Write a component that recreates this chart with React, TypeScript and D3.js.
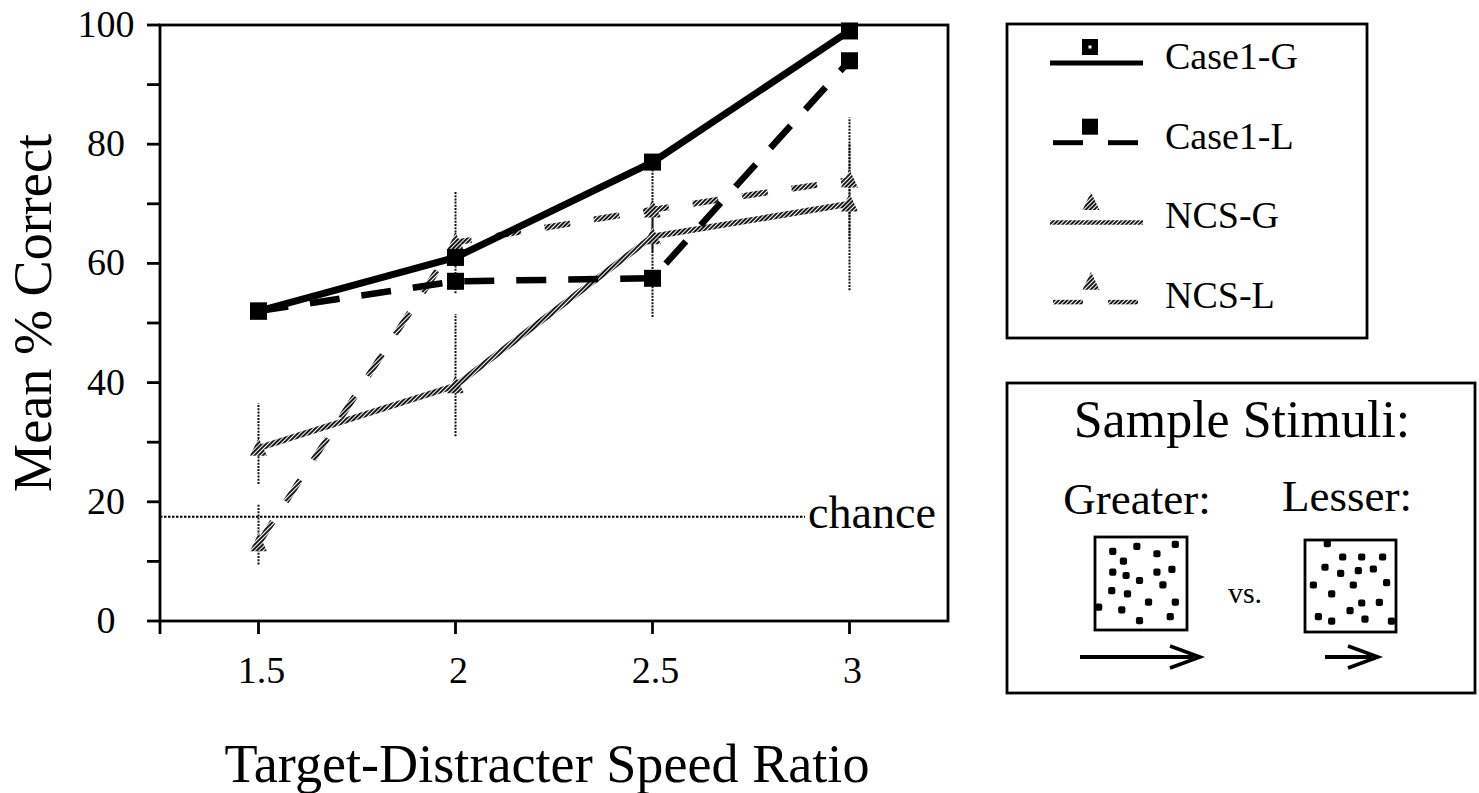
import React from "react";
import * as d3 from "d3";

// ---- data ----
const speedRatios = [1.5, 2, 2.5, 3];
const case1G = [52, 61, 77, 99];
const case1L = [52, 57, 57.5, 94];
const ncsG = [29, 39.5, 64.5, 70];
const ncsGLow = [23, 31, 51, 55.5];
const ncsGHigh = [36.5, 51.5, 70, 80];
const ncsL = [13, 63.5, 69, 74];
const ncsLLow = [9.5, 55, 62, 64];
const ncsLHigh = [19.5, 72, 77, 84.5];
const chanceLevel = 17.5;
const yTickValues = [0, 10, 20, 30, 40, 50, 60, 70, 80, 90, 100];
const yTickLabels = ["0", "20", "40", "60", "80", "100"];
const xTickValues = [1.25, 1.5, 2, 2.5, 3];
const xTickLabels = ["1.5", "2", "2.5", "3"];
const legendNames = ["Case1-G", "Case1-L", "NCS-G", "NCS-L"];

// dot positions inside sample stimulus boxes (fractions of box)
const greaterDots: [number, number][] = [
  [0.873, 0.079], [0.455, 0.101], [0.193, 0.155], [0.673, 0.18], [0.309, 0.259],
  [0.193, 0.378], [0.338, 0.414], [0.673, 0.378], [0.836, 0.349], [0.484, 0.468],
  [0.738, 0.514], [0.182, 0.576], [0.353, 0.612], [0.582, 0.701], [0.873, 0.701],
  [0.04, 0.755], [0.291, 0.784], [0.818, 0.856], [0.484, 0.899],
];
const lesserDots: [number, number][] = [
  [0.245, 0.04], [0.414, 0.185], [0.623, 0.185], [0.853, 0.185], [0.22, 0.296],
  [0.392, 0.363], [0.586, 0.333], [0.751, 0.315], [0.092, 0.489], [0.531, 0.489],
  [0.897, 0.463], [0.293, 0.585], [0.623, 0.685], [0.817, 0.678], [0.495, 0.767],
  [0.147, 0.833], [0.293, 0.881], [0.659, 0.859], [0.95, 0.881],
];

const FONT = "'Liberation Serif', 'Times New Roman', serif";

export default function App() {
  const x = d3.scaleLinear().domain([1.25, 3.25]).range([160, 948]);
  const y = d3.scaleLinear().domain([0, 100]).range([621, 25]);
  const line = d3
    .line<number>()
    .x((_, i) => x(speedRatios[i]))
    .y((d) => y(d));

  const sq = (cx: number, cy: number, s: number, key: string, dot = false) => (
    <g key={key}>
      <rect x={cx - s / 2} y={cy - s / 2} width={s} height={s} fill="#000" />
      {dot && <rect x={cx - 1.5} y={cy - 1.5} width={3} height={3} fill="#fff" />}
    </g>
  );
  const tri = (cx: number, cy: number, s: number, key: string) => (
    <path
      key={key}
      d={`M${cx},${cy - s * 0.6} L${cx + s / 2},${cy + s * 0.45} L${cx - s / 2},${cy + s * 0.45} Z`}
      fill="url(#hatch)"
    />
  );

  const errBars = (lo: number[], hi: number[], key: string) =>
    speedRatios.map((r, i) => (
      <line
        key={key + i}
        x1={x(r)}
        x2={x(r)}
        y1={y(lo[i])}
        y2={y(hi[i])}
        stroke="#111"
        strokeWidth={2}
        strokeDasharray="2 1.2"
      />
    ));

  const legendRowY = (i: number) => 63 + i * 79.7;

  const stimBox = (
    bx: number,
    by: number,
    w: number,
    h: number,
    dots: [number, number][],
    key: string
  ) => (
    <g key={key}>
      <rect x={bx} y={by} width={w} height={h} fill="#fff" stroke="#000" strokeWidth={2.8} />
      {dots.map(([fx, fy], i) => (
        <rect
          key={i}
          x={bx + fx * w - 3.6}
          y={by + fy * h - 3.6}
          width={7.2}
          height={7.2}
          rx={2}
          fill="#000"
        />
      ))}
    </g>
  );

  const arrow = (x1: number, x2: number, yy: number, key: string) => (
    <g key={key} stroke="#000" fill="none">
      <line x1={x1} x2={x2 - 6} y1={yy} y2={yy} strokeWidth={4} />
      <path
        d={`M${x2 - 30},${yy - 11} L${x2},${yy} L${x2 - 30},${yy + 11}`}
        strokeWidth={3.5}
        strokeLinejoin="miter"
      />
    </g>
  );

  return (
    <svg
      width={1479}
      height={793}
      style={{ position: "absolute", left: 0, top: 0, background: "#fff" }}
      fontFamily={FONT}
    >
      <defs>
        <pattern
          id="hatch"
          width={3}
          height={3}
          patternUnits="userSpaceOnUse"
          patternTransform="rotate(45)"
        >
          <rect width={3} height={3} fill="#fff" />
          <line x1={1} y1={0} x2={1} y2={3} stroke="#000" strokeWidth={1.8} />
        </pattern>
      </defs>
      <rect width={1479} height={793} fill="#fff" />

      {/* chance line */}
      <line
        x1={x(1.25)}
        x2={805}
        y1={y(chanceLevel)}
        y2={y(chanceLevel)}
        stroke="#000"
        strokeWidth={2}
        strokeDasharray="2.5 1.5"
      />
      <text x={808} y={y(chanceLevel) + 11} fontSize={46} textLength={128} lengthAdjust="spacingAndGlyphs">
        chance
      </text>

      {/* error bars */}
      {errBars(ncsGLow, ncsGHigh, "eg")}
      {errBars(ncsLLow, ncsLHigh, "el")}

      {/* NCS lines */}
      <path d={line(ncsG) || ""} fill="none" stroke="url(#hatch)" strokeWidth={6} />
      <path
        d={line(ncsL) || ""}
        fill="none"
        stroke="url(#hatch)"
        strokeWidth={6}
        strokeDasharray="26 24"
      />
      {ncsG.map((v, i) => tri(x(speedRatios[i]), y(v), 17, "tg" + i))}
      {ncsL.map((v, i) => tri(x(speedRatios[i]), y(v), 17, "tl" + i))}

      {/* Case1 lines */}
      <path d={line(case1L) || ""} fill="none" stroke="#000" strokeWidth={6.5} strokeDasharray="30 22" />
      <path d={line(case1G) || ""} fill="none" stroke="#000" strokeWidth={7} />
      {case1L.map((v, i) => sq(x(speedRatios[i]), y(v), 17, "sl" + i))}
      {case1G.map((v, i) => sq(x(speedRatios[i]), y(v), 17, "sg" + i))}

      {/* frame / axes */}
      <rect x={160} y={25} width={788} height={596} fill="none" stroke="#000" strokeWidth={2.8} />
      {yTickValues.map((t) => (
        <line key={"yt" + t} x1={147} x2={160} y1={y(t)} y2={y(t)} stroke="#000" strokeWidth={2.8} />
      ))}
      {yTickLabels.map((t) => (
        <text key={"yl" + t} x={106} y={y(+t) + 12} fontSize={38} textAnchor="middle">
          {t}
        </text>
      ))}
      {xTickValues.map((t) => (
        <line key={"xt" + t} x1={x(t)} x2={x(t)} y1={621} y2={634} stroke="#000" strokeWidth={2.8} />
      ))}
      {xTickLabels.map((t) => (
        <text key={"xl" + t} x={x(+t) + 3} y={683} fontSize={38} textAnchor="middle">
          {t}
        </text>
      ))}

      {/* axis titles */}
      <text x={547} y={782} fontSize={54} textAnchor="middle" textLength={645} lengthAdjust="spacingAndGlyphs">
        Target-Distracter Speed Ratio
      </text>
      <text
        transform="translate(51,313) rotate(-90)"
        fontSize={54}
        textAnchor="middle"
        textLength={358}
        lengthAdjust="spacingAndGlyphs"
      >
        Mean % Correct
      </text>

      {/* legend */}
      <rect x={1007} y={24} width={360} height={314} fill="#fff" stroke="#000" strokeWidth={2.8} />
      {legendNames.map((name, i) => {
        const ly = legendRowY(i);
        const dashed = i % 2 === 1;
        const isCase = i < 2;
        const stroke = isCase ? "#000" : "url(#hatch)";
        const sw = isCase ? 5 : 4.5;
        return (
          <g key={name}>
            {dashed ? (
              <>
                <line x1={1053} x2={1083} y1={ly} y2={ly} stroke={stroke} strokeWidth={sw} />
                <line x1={1108} x2={1138} y1={ly} y2={ly} stroke={stroke} strokeWidth={sw} />
              </>
            ) : (
              <line x1={1050} x2={1143} y1={ly} y2={ly} stroke={stroke} strokeWidth={sw} />
            )}
            {isCase ? sq(1090, ly - 16, 16, "lm" + i, i === 0) : tri(1091, ly - 20, 17, "lm" + i)}
            <text x={1165} y={ly + 6} fontSize={38}>
              {name}
            </text>
          </g>
        );
      })}

      {/* sample stimuli */}
      <rect x={1007} y={383} width={468} height={310} fill="#fff" stroke="#000" strokeWidth={2.8} />
      <text x={1242} y={437} fontSize={52} textAnchor="middle">
        Sample Stimuli:
      </text>
      <text x={1137} y={514} fontSize={45} textAnchor="middle">
        Greater:
      </text>
      <text x={1347} y={511} fontSize={45} textAnchor="middle">
        Lesser:
      </text>
      <text x={1245} y={603} fontSize={30} textAnchor="middle">
        vs.
      </text>
      {stimBox(1095, 537, 92, 93, greaterDots, "gb")}
      {stimBox(1305, 540, 91, 92, lesserDots, "lb")}
      {arrow(1080, 1200, 657, "ga")}
      {arrow(1325, 1378, 657, "la")}
    </svg>
  );
}
